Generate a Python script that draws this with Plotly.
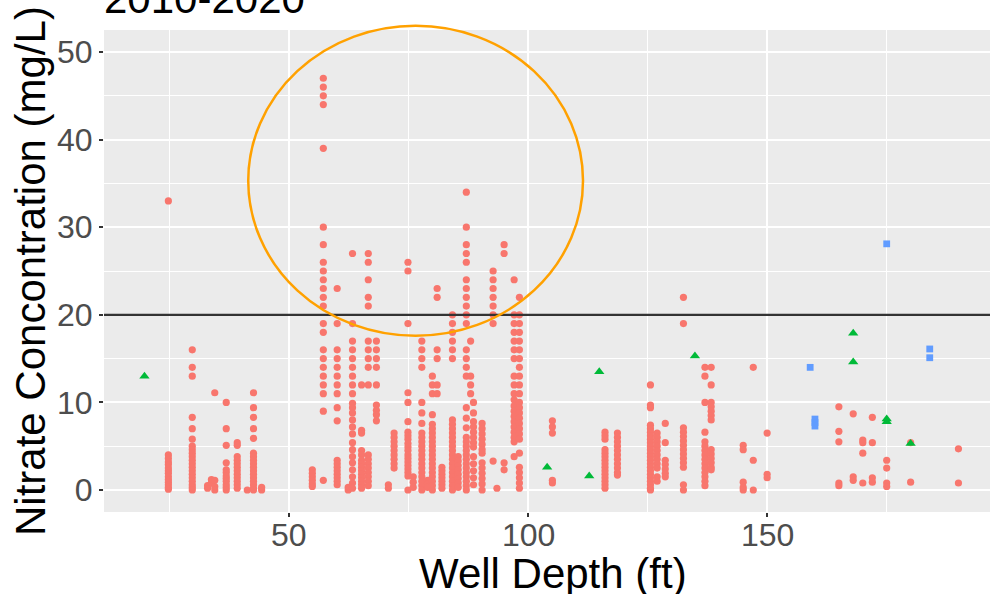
import plotly.graph_objects as go

# ---------------- data ----------------
red_depths = [24.8, 29.8, 33.0, 33.8, 34.5, 36.9, 39.2, 41.3, 42.6, 44.3,
              54.9, 57.2, 60.1, 62.4, 63.3, 65.2, 66.6, 68.3, 70.8, 72.0,
              74.9, 76.0, 77.8, 79.0, 80.0, 81.0, 82.0, 84.2, 85.4, 87.1,
              88.0, 88.6, 90.4, 92.7, 93.5, 95.0, 97.1, 98.2, 105.1, 116.1,
              118.7, 125.6, 127.0, 128.7, 132.5, 137.0, 138.3, 145.0, 147.1, 150.0,
              165.0, 168.0, 170.0, 172.0, 175.0, 180.0, 190.0]
red_values = [
    [33, 4.0, 3.6, 3.2, 2.9, 2.5, 2.2, 1.9, 1.5, 1.2, 0.9, 0.6, 0.3, 0.1],
    [16, 14, 13, 8.3, 7.0, 5.8, 5.0, 4.6, 4.2, 3.8, 3.4, 3.0, 2.6, 2.2, 1.8, 1.4, 1.0, 0.6, 0.3, 0.0],
    [0.2, 0.5],
    [0.8, 1.2],
    [11.1, 1.1, 0.4, 0.0],
    [10.0, 7.0, 5.1, 3.1, 2.3, 2.0, 1.6, 1.3, 1.0, 0.6, 0.3, 0.0],
    [5.4, 5.1, 3.8, 3.4, 3.0, 2.6, 2.2, 1.8, 1.4, 1.0, 0.6, 0.2],
    [0.0],
    [11.1, 9.4, 8.3, 7.0, 5.9, 4.2, 3.8, 3.4, 3.0, 2.6, 2.2, 1.8, 1.4, 1.0, 0.6, 0.2, 0.0],
    [0.0, 0.3],
    [2.3, 1.9, 1.5, 1.1, 0.7, 0.4],
    [47, 46, 45, 44, 39, 30, 28, 26, 25, 24, 23, 22, 21, 19, 18, 16, 15, 14, 13, 12, 11, 9, 1.1],
    [23, 19, 16, 15, 14, 13, 12, 11, 9.4, 7.9, 3.4, 3.0, 2.6, 2.2, 1.8, 1.4, 1.0, 0.6],
    [0.0, 0.3],
    [27, 19, 17, 16, 15, 14, 13, 12, 11, 9.9, 9.4, 8.8, 8.0, 7.2, 6.4, 5.4, 4.6, 3.8, 3.1, 2.3, 1.5, 0.8, 0.2],
    [12, 6.8, 6.5, 4.5, 4.0, 3.4, 3.0, 2.6, 2.2, 1.8, 1.4, 1.0, 0.6, 0.2],
    [27, 26, 24, 22, 21, 17, 16, 15, 14, 12, 4.0, 3.5, 3.0, 2.5, 2.0, 1.5, 1.0, 0.5],
    [17, 16, 15, 14, 12, 9.7, 9.1, 8.6, 7.9],
    [0.6, 0.2],
    [6.5, 6.0, 5.5, 5.0, 4.5, 4.0, 3.5, 3.0, 2.5],
    [26, 25, 19, 11.1, 10.0, 7.8, 6.6, 6.2, 5.8, 5.3, 4.9, 4.5, 4.0, 3.6, 3.2, 2.8, 2.4, 2.0, 1.6, 0.0],
    [1.5, 0.9, 0.3],
    [17, 16, 15, 14, 10, 8.8, 7.6, 6.5, 6.0, 5.5, 5.0, 4.5, 4.0, 3.5, 3.0, 2.5, 2.0, 1.5, 1.0, 0.5, 0.0],
    [1.1, 0.7, 0.3],
    [13, 12, 11, 8.6, 7.5, 7.0, 6.5, 6.0, 5.5, 5.0, 4.5, 4.0, 3.5, 3.0, 2.5, 2.0, 1.5, 1.0, 0.5, 0.0],
    [23, 22, 16, 15, 12, 11],
    [2.6, 2.2, 1.8, 1.4, 1.0, 0.6, 0.2],
    [20, 19, 18, 17, 16, 15, 8.0, 7.5, 7.0, 6.5, 6.0, 5.5, 5.0, 4.5, 4.0, 3.5, 3.0, 2.5, 2.0, 1.5, 1.0, 0.5, 0.0],
    [3.8, 3.3, 2.8, 2.3, 1.8, 1.3, 0.8, 0.3],
    [34, 30, 28, 27, 26, 24, 23, 22, 21, 20, 19, 16, 15, 14, 13, 9.4, 8.2, 7.1, 6.0, 5.5, 5.0, 4.5, 4.0, 3.5, 3.0, 2.5, 2.0, 1.5, 1.0, 0.5, 0.0],
    [17, 13, 12, 11],
    [10.0, 8.8, 7.8, 7.2, 6.6, 6.0, 5.4, 4.9, 3.8, 3.0, 2.2, 1.4, 0.6],
    [7.6, 7.0, 6.4, 5.8, 5.2, 4.6, 4.2, 3.1, 2.5, 1.9, 1.3, 0.7, 0.0],
    [25, 24, 23, 22, 21, 20, 19, 3.3],
    [0.2],
    [28, 27, 3.1, 2.3],
    [24, 20, 19, 18, 17, 16, 15, 13, 12, 11, 10.3, 9.6, 9.0, 8.4, 7.8, 7.2, 6.6, 6.0, 5.5, 3.8],
    [22, 20, 19, 18, 17, 16, 15, 14, 13, 12, 11, 10, 9.4, 8.8, 8.2, 7.6, 7.0, 6.4, 5.8, 4.2, 2.6, 2.0, 1.4, 0.8, 0.2],
    [7.9, 7.2, 6.5, 1.1, 0.8],
    [6.6, 6.2, 5.8, 4.6, 4.2, 3.8, 3.4, 3.0, 2.6, 2.2, 1.8, 1.4, 1.0, 0.6, 0.2],
    [6.5, 6.0, 5.5, 5.0, 4.5, 4.0, 3.5, 3.0, 2.5, 2.0, 1.7],
    [12.0, 9.7, 9.4, 7.4, 7.0, 6.6, 6.2, 5.8, 5.4, 5.0, 4.6, 4.2, 3.8, 3.4, 3.0, 2.6, 2.2, 1.8, 1.4, 1.0, 0.6, 0.2, 0.0],
    [6.5, 6.0, 5.5, 5.0, 4.5, 4.0, 3.5, 3.0, 2.5, 1.5, 1.0],
    [7.6, 5.4, 3.4, 2.9, 2.4, 1.9, 1.5],
    [22, 19, 7.1, 6.6, 6.1, 5.6, 5.1, 4.6, 4.1, 3.6, 3.1, 2.6, 0.6, 0.0],
    [14, 13, 10, 6.6, 5.5, 5.0, 4.5, 4.0, 3.5, 3.0, 2.5, 2.0, 1.5, 1.0, 0.5],
    [14, 12, 10, 9.5, 9.0, 8.5, 8.0, 4.6, 4.1, 3.6, 3.1, 2.6, 2.3],
    [5.1, 4.6, 0.9, 0.3, 0.0],
    [14, 3.4, 0.0],
    [6.5, 1.8, 1.4],
    [9.5, 6.7, 5.5, 0.8, 0.5],
    [8.7, 1.5, 1.1],
    [5.7, 5.4, 4.2, 0.8],
    [8.3, 5.4, 1.4, 0.9],
    [3.4, 2.5, 0.8, 0.4],
    [5.4, 0.9],
    [4.7, 0.8],
]

green_depth = [19.8, 104.0, 112.8, 114.9, 134.9, 168.0, 168.0, 175.0, 175.0, 180.0]
green_conc = [13.0, 2.6, 1.6, 13.5, 15.3, 17.9, 14.6, 8.1, 7.8, 5.3]

blue_depth = [159.0, 160.0, 160.0, 160.0, 175.0, 184.0, 184.0]
blue_conc = [14.0, 8.1, 7.7, 7.3, 28.1, 16.1, 15.1]

x_ticks = [50, 100, 150]
x_tick_labels = ["50", "100", "150"]
y_ticks = [0, 10, 20, 30, 40, 50]
limit_value = 20
highlight_x = [41.5, 111.5]
highlight_y = [17.6, 53.0]

title_text = "2010-2020"
x_title = "Well Depth (ft)"
y_title = "Nitrate Concontration (mg/L)"

# ---------------- figure ----------------
red_x, red_y = [], []
for d, vals in zip(red_depths, red_values):
    for v in vals:
        red_x.append(d)
        red_y.append(v)

FONT = "Liberation Sans, Arial, Helvetica, sans-serif"
x_range = [11.34, 196.6]
y_range = [-2.51, 52.51]

fig = go.Figure()
fig.add_trace(go.Scatter(x=red_x, y=red_y, mode="markers",
                         marker=dict(symbol="circle", size=7.2, color="#F8766D"),
                         showlegend=False))
fig.add_trace(go.Scatter(x=green_depth, y=green_conc, mode="markers",
                         marker=dict(symbol="triangle-up", size=9, color="#00BA38"),
                         showlegend=False))
fig.add_trace(go.Scatter(x=blue_depth, y=blue_conc, mode="markers",
                         marker=dict(symbol="square", size=6.8, color="#619CFF"),
                         showlegend=False))

def ypaper(v):
    return (v - y_range[0]) / (y_range[1] - y_range[0])

fig.add_shape(type="line", xref="paper", yref="y", x0=0, x1=1,
              y0=limit_value, y1=limit_value,
              line=dict(color="#333333", width=2.2), layer="above")
fig.add_shape(type="circle", xref="x", yref="paper",
              x0=highlight_x[0], x1=highlight_x[1],
              y0=ypaper(highlight_y[0]), y1=ypaper(highlight_y[1]),
              line=dict(color="#FFA100", width=2.5), layer="above")

# x tick labels placed at the axis tick values
for tv, tl in zip(x_ticks, x_tick_labels):
    fig.add_annotation(text=tl, xref="x", yref="paper", x=tv, y=-0.0477,
                       xanchor="center", yanchor="middle", showarrow=False,
                       font=dict(family=FONT, size=32, color="#4D4D4D"))

fig.add_annotation(text=title_text, xref="paper", yref="paper", x=0, y=1.0658,
                   xanchor="left", yanchor="middle", showarrow=False, xshift=-2,
                   font=dict(family=FONT, size=42, color="black"))
fig.add_annotation(text=x_title, xref="paper", yref="paper", x=0.507, y=-0.1266,
                   xanchor="center", yanchor="middle", showarrow=False,
                   font=dict(family=FONT, size=42, color="black"))
fig.add_annotation(text=y_title, xref="paper", yref="paper", x=0, y=0.5,
                   xshift=-74, textangle=-90,
                   xanchor="center", yanchor="middle", showarrow=False,
                   font=dict(family=FONT, size=42, color="black"))

fig.update_layout(
    template="none",
    width=990, height=594,
    margin=dict(l=104, r=0, t=30, b=82, pad=0),
    plot_bgcolor="#EBEBEB", paper_bgcolor="white",
    font=dict(family=FONT),
    showlegend=False,
)
fig.update_xaxes(range=x_range, tickvals=x_ticks, ticks="outside", ticklen=4,
                 tickwidth=1.5, tickcolor="#333333", showline=False, zeroline=False,
                 showgrid=True, gridcolor="white", gridwidth=2, showticklabels=False,
                 minor=dict(dtick=25, tick0=0, showgrid=True, gridcolor="white", gridwidth=1.1, ticks=""),
                 automargin=False)
fig.update_yaxes(range=y_range, tickvals=y_ticks, ticks="outside", ticklen=4,
                 tickwidth=1.5, tickcolor="#333333", showline=False, zeroline=False,
                 showgrid=True, gridcolor="white", gridwidth=2,
                 minor=dict(dtick=5, tick0=0, showgrid=True, gridcolor="white", gridwidth=1.1, ticks=""),
                 tickfont=dict(family=FONT, size=32, color="#4D4D4D"), automargin=False)

fig.write_html("out.html")
